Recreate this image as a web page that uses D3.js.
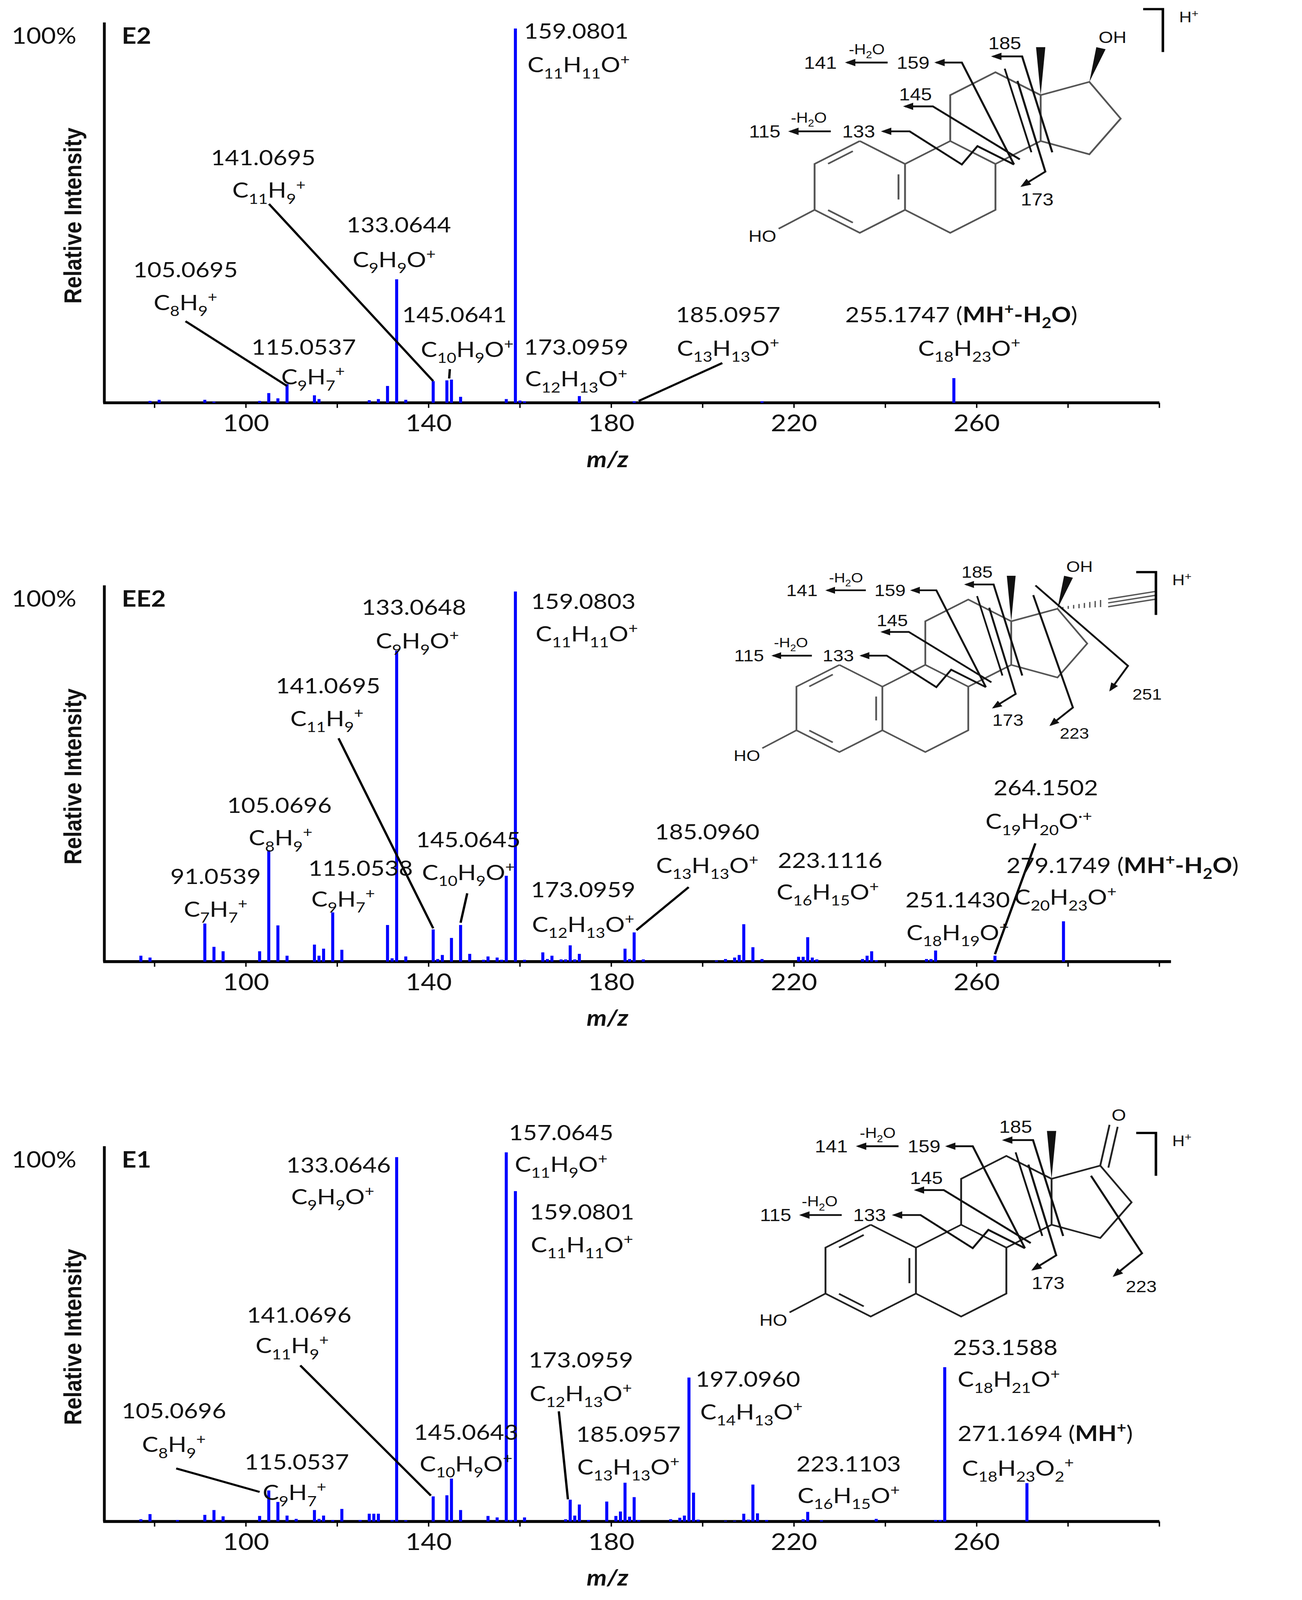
<!DOCTYPE html>
<html>
<head>
<meta charset="utf-8">
<script src="https://cdn.jsdelivr.net/npm/d3@7"></script>
<style>
  html, body { margin: 0; padding: 0; background: #fff; overflow: hidden; }
  svg { display: block; width: 100vw; height: 100vh; }
  text { font-family: Lato, "Open Sans", sans-serif; fill: #111; }
  .struct text { font-family: "Liberation Sans", Arial, sans-serif; }
</style>
</head>
<body>
<svg id="chart"></svg>
<script>
// ---- data (m/z, relative intensity %) ----
const E2_MZ  = [79, 81, 91, 93, 103, 105, 107, 109, 115, 116, 127, 129, 131, 133, 135, 141, 144, 145, 147, 157, 159, 160, 161, 173, 185, 213, 255];
const E2_INT = [0.5, 0.8, 0.8, 0.3, 0.5, 2.6, 1.2, 5, 2, 1, 0.7, 1, 4.5, 33, 0.8, 5.8, 6, 6.2, 1.6, 1, 100, 0.6, 0.4, 1.8, 0.4, 0.4, 6.6];

const EE2_MZ  = [77, 79, 91, 93, 95, 103, 105, 107, 109, 115, 116, 117, 119, 121, 131, 132, 133, 135, 141, 142, 143, 145, 147, 149,
                 152, 153, 155, 156, 157, 159, 161, 165, 166, 167, 169, 170, 171, 172, 173, 183, 184, 185, 187,
                 203, 205, 207, 208, 209, 211, 213, 221, 222, 223, 224, 225, 235, 236, 237, 238, 249, 250, 251, 264, 279];
const EE2_INT = [1.6, 1.1, 10.3, 4, 2.8, 2.8, 30.1, 9.8, 1.6, 4.6, 1.6, 3.5, 13.3, 3.2, 9.9, 0.9, 84, 1.4, 8.7, 0.7, 1.8, 6.4, 9.9, 2.1,
                 0.5, 1.4, 1.1, 0.5, 23.2, 100, 0.5, 2.5, 0.7, 1.6, 0.6, 0.6, 4.4, 0.6, 2.1, 3.5, 0.7, 7.9, 0.6,
                 0.3, 0.7, 1.1, 1.8, 10.1, 3.9, 0.7, 1.3, 1.3, 6.6, 1.1, 0.6, 0.7, 1.6, 2.8, 0.4, 0.7, 0.7, 3, 1.6, 10.9];

const E1_MZ  = [77, 79, 85, 91, 93, 95, 103, 105, 107, 109, 111, 115, 116, 117, 119, 121, 125, 127, 128, 129, 132, 133, 135,
                141, 144, 145, 147, 153, 155, 157, 158, 159, 161, 170, 171, 172, 173, 175, 179, 181, 182, 183, 184, 185, 186,
                193, 195, 196, 197, 198, 199, 205, 207, 209, 210, 211, 212, 214, 222, 223, 226, 238, 251, 252, 253, 271];
const E1_INT = [0.6, 2, 0.4, 1.8, 3.1, 1.4, 1.5, 8.4, 5.3, 1.6, 0.7, 3.1, 0.7, 1.6, 0.4, 3.4, 0.4, 2.1, 2.1, 2.1, 0.4, 98.7, 0.3,
                6.8, 7.1, 11.6, 3.1, 1.5, 1.1, 100, 0.4, 89.5, 1.1, 0.6, 5.9, 1.6, 4.6, 0.4, 5.4, 1.5, 2.7, 10.5, 1.3, 6.6, 0.4,
                0.6, 1, 1.6, 39, 7.8, 0.5, 0.2, 0.2, 2.1, 0.5, 10, 2.2, 0.4, 0.6, 2.6, 0.3, 0.7, 0.4, 0.4, 41.8, 10.4];

const MZ_DOMAIN = [69, 300];
const MZ_TICKS = [80, 100, 120, 140, 160, 180, 200, 220, 240, 260, 280, 300];
const MZ_TICK_LABELS = [100, 140, 180, 220, 260];

// annotation text lines: [x, y, anchor, segments]; segment [text, style] n=plain, f=formula, b=bold formula
const E2_LABELS = [
  [452, 38, "start", [["159.0801", "n"]]], [455, 71, "start", [["C11H11O+", "f"]]],
  [227, 162, "middle", [["141.0695", "n"]]], [232, 194, "middle", [["C11H9+", "f"]]],
  [344, 228, "middle", [["133.0644", "n"]]], [340, 262, "middle", [["C9H9O+", "f"]]],
  [160, 272, "middle", [["105.0695", "n"]]], [160, 304, "middle", [["C8H9+", "f"]]],
  [392, 316, "middle", [["145.0641", "n"]]], [403, 350, "middle", [["C10H9O+", "f"]]],
  [262, 348, "middle", [["115.0537", "n"]]], [270, 377, "middle", [["C9H7+", "f"]]],
  [497, 348, "middle", [["173.0959", "n"]]], [497, 379, "middle", [["C12H13O+", "f"]]],
  [628, 316, "middle", [["185.0957", "n"]]], [628, 349, "middle", [["C13H13O+", "f"]]],
  [729, 316, "start", [["255.1747 (", "n"], ["MH+-H2O", "b"], [")", "n"]]], [836, 349, "middle", [["C18H23O+", "f"]]]
];
const EE2_LABELS = [
  [357, 603, "middle", [["133.0648", "n"]]], [360, 636, "middle", [["C9H9O+", "f"]]],
  [458, 597, "start", [["159.0803", "n"]]], [462, 629, "start", [["C11H11O+", "f"]]],
  [283, 680, "middle", [["141.0695", "n"]]], [282, 712, "middle", [["C11H9+", "f"]]],
  [241, 797, "middle", [["105.0696", "n"]]], [242, 829, "middle", [["C8H9+", "f"]]],
  [186, 867, "middle", [["91.0539", "n"]]], [186, 899, "middle", [["C7H7+", "f"]]],
  [311, 859, "middle", [["115.0538", "n"]]], [296, 889, "middle", [["C9H7+", "f"]]],
  [404, 831, "middle", [["145.0645", "n"]]], [404, 863, "middle", [["C10H9O+", "f"]]],
  [503, 880, "middle", [["173.0959", "n"]]], [503, 914, "middle", [["C12H13O+", "f"]]],
  [610, 823, "middle", [["185.0960", "n"]]], [610, 856, "middle", [["C13H13O+", "f"]]],
  [716, 851, "middle", [["223.1116", "n"]]], [714, 882, "middle", [["C16H15O+", "f"]]],
  [826, 890, "middle", [["251.1430", "n"]]], [826, 922, "middle", [["C18H19O+", "f"]]],
  [902, 780, "middle", [["264.1502", "n"]]], [896, 813, "middle", [["C19H20O·+", "f"]]],
  [868, 856, "start", [["279.1749 (", "n"], ["MH+-H2O", "b"], [")", "n"]]], [919, 887, "middle", [["C20H23O+", "f"]]]
];
const E1_LABELS = [
  [292, 1150, "middle", [["133.0646", "n"]]], [287, 1181, "middle", [["C9H9O+", "f"]]],
  [484, 1118, "middle", [["157.0645", "n"]]], [484, 1149, "middle", [["C11H9O+", "f"]]],
  [502, 1196, "middle", [["159.0801", "n"]]], [502, 1228, "middle", [["C11H11O+", "f"]]],
  [258, 1297, "middle", [["141.0696", "n"]]], [252, 1327, "middle", [["C11H9+", "f"]]],
  [150, 1391, "middle", [["105.0696", "n"]]], [150, 1424, "middle", [["C8H9+", "f"]]],
  [256, 1441, "middle", [["115.0537", "n"]]], [254, 1471, "middle", [["C9H7+", "f"]]],
  [402, 1412, "middle", [["145.0643", "n"]]], [402, 1443, "middle", [["C10H9O+", "f"]]],
  [501, 1341, "middle", [["173.0959", "n"]]], [501, 1374, "middle", [["C12H13O+", "f"]]],
  [542, 1414, "middle", [["185.0957", "n"]]], [542, 1446, "middle", [["C13H13O+", "f"]]],
  [600, 1360, "start", [["197.0960", "n"]]], [604, 1392, "start", [["C14H13O+", "f"]]],
  [732, 1443, "middle", [["223.1103", "n"]]], [732, 1474, "middle", [["C16H15O+", "f"]]],
  [822, 1329, "start", [["253.1588", "n"]]], [826, 1360, "start", [["C18H21O+", "f"]]],
  [826, 1413, "start", [["271.1694 (", "n"], ["MH+", "b"], [")", "n"]]], [878, 1447, "middle", [["C18H23O2+", "f"]]]
];

// leader lines: [x, y of label end, m/z, intensity of peak end]
const E2_LEADERS  = [[232, 200, 141, 5.8], [160, 315, 109, 4.5], [388, 362, 144.5, 6.5], [623, 356, 186, 0.5]];
const EE2_LEADERS = [[292, 724, 141, 9], [403, 876, 147, 10.5], [594, 870, 185.5, 8.5], [893, 827, 264, 2]];
const E1_LEADERS  = [[259, 1339, 140.5, 7], [152, 1440, 103, 8], [482, 1384, 170.5, 6]];

const panels = [
  { name: "E2",  mz: E2_MZ,  inten: E2_INT,  labels: E2_LABELS,  leaders: E2_LEADERS,  top: 28,   base: 395,  axisEnd: 1000, struct: [741.6, 138.3, 1, "E2"] },
  { name: "EE2", mz: EE2_MZ, inten: EE2_INT, labels: EE2_LABELS, leaders: EE2_LEADERS, top: 580,  base: 943,  axisEnd: 1010, struct: [724, 652, 0.95, "EE2"] },
  { name: "E1",  mz: E1_MZ,  inten: E1_INT,  labels: E1_LABELS,  leaders: E1_LEADERS,  top: 1130, base: 1492, axisEnd: 1000, struct: [751, 1201, 1, "E1"] }
];

const W = 1123, H = 1569;
const svg = d3.select("#chart")
  .attr("viewBox", `0 0 ${W} ${H}`)
  .attr("preserveAspectRatio", "none");

svg.append("defs").append("marker")
  .attr("id", "arr").attr("viewBox", "0 0 10 10").attr("refX", 8).attr("refY", 5)
  .attr("markerWidth", 5).attr("markerHeight", 5).attr("orient", "auto-start-reverse")
  .append("path").attr("d", "M0,1 L10,5 L0,9 Z").attr("fill", "#111");

const x = d3.scaleLinear().domain(MZ_DOMAIN).range([90, 1000]);

// write text with sub/superscripts
function richText(sel, segs, size) {
  let off = 0;
  segs.forEach(([t, style]) => {
    if (style === "n") {
      sel.append("tspan").attr("dy", -off).text(t);
      off = 0;
      return;
    }
    for (let i = 0; i < t.length; i++) {
      const c = t[i];
      const prev = i > 0 ? t[i - 1] : "";
      let kind = 0, fs = size;
      if (/[0-9]/.test(c) && /[A-Za-z0-9]/.test(prev)) { kind = 1; fs = size * 0.68; }
      if (c === "+" || c === "·") { kind = -1; fs = size * 0.68; }
      const target = kind === 1 ? size * 0.28 : kind === -1 ? -size * 0.38 : 0;
      sel.append("tspan")
        .attr("dy", target - off)
        .attr("font-size", fs)
        .attr("font-weight", style === "b" ? "bold" : null)
        .text(c);
      off = target;
    }
  });
}

panels.forEach(p => {
  const g = svg.append("g");
  const y = d3.scaleLinear().domain([0, 100]).range([p.base, p.top]);

  // axes
  g.append("line").attr("x1", 90).attr("x2", 90).attr("y1", p.top - 6).attr("y2", p.base)
    .attr("stroke", "#000").attr("stroke-width", 2.4);
  g.append("line").attr("x1", 89).attr("x2", p.axisEnd).attr("y1", p.base).attr("y2", p.base)
    .attr("stroke", "#000").attr("stroke-width", 2.8);
  g.selectAll(".tk").data(MZ_TICKS).enter().append("line")
    .attr("x1", d => x(d)).attr("x2", d => x(d)).attr("y1", p.base).attr("y2", p.base + 5)
    .attr("stroke", "#000").attr("stroke-width", 1.2);
  g.selectAll(".tl").data(MZ_TICK_LABELS).enter().append("text")
    .attr("x", d => x(d)).attr("y", p.base + 28).attr("text-anchor", "middle")
    .attr("font-size", 23).text(d => d);
  g.append("text").attr("x", 524).attr("y", p.base + 63).attr("text-anchor", "middle")
    .attr("font-size", 22).attr("font-weight", "bold").attr("font-style", "italic").text("m/z");
  g.append("text").attr("x", 10).attr("y", p.top + 15).attr("font-size", 22).text("100%");
  g.append("text").attr("x", 105).attr("y", p.top + 15).attr("font-size", 22).attr("font-weight", "bold").text(p.name);
  g.append("text")
    .attr("transform", `translate(70,${(p.top + p.base) / 2}) rotate(-90)`)
    .attr("text-anchor", "middle").attr("font-size", 21).attr("font-weight", "bold")
    .style("font-family", "'Liberation Sans', Arial, sans-serif").text("Relative Intensity");

  // peaks
  const peaks = p.mz.map((m, i) => ({ m, v: p.inten[i] }));
  g.selectAll(".pk").data(peaks).enter().append("line")
    .attr("x1", d => x(d.m)).attr("x2", d => x(d.m))
    .attr("y1", p.base).attr("y2", d => y(d.v))
    .attr("stroke", "#0000ff").attr("stroke-width", 2.6);

  // leaders
  g.selectAll(".ld").data(p.leaders).enter().append("line")
    .attr("x1", d => d[0]).attr("y1", d => d[1])
    .attr("x2", d => x(d[2])).attr("y2", d => y(d[3]))
    .attr("stroke", "#000").attr("stroke-width", 2);

  // labels
  p.labels.forEach(([lx, ly, anchor, segs]) => {
    const t = g.append("text").attr("x", lx).attr("y", ly).attr("text-anchor", anchor).attr("font-size", 21);
    richText(t, segs, 21);
  });

  drawStructure(svg, ...p.struct);
  // H+ bracket
  const bx = p.name === "E2" ? 1003 : 997, by = p.top - 19;
  svg.append("path").attr("d", `M${bx - 17},${by} H${bx} V${by + 42}`)
    .attr("fill", "none").attr("stroke", "#000").attr("stroke-width", 2.2);
  const ht = svg.append("text").attr("x", bx + 14).attr("y", by + 13)
    .attr("font-size", 15).style("font-family", "'Liberation Sans', Arial, sans-serif");
  richText(ht, [["H+", "f"]], 15);
});

function drawStructure(root, ox, oy, s, kind) {
  const g = root.append("g").attr("class", "struct")
    .attr("transform", `translate(${ox},${oy}) scale(${s})`);
  const col = kind === "E1" ? "#222" : "#555";
  const bond = (pts, w, c) => g.append("path").attr("d", d3.line()(pts))
    .attr("fill", "none").attr("stroke", c || col).attr("stroke-width", w || 1.6);

  // rings
  const A = [[0, 0], [39, 22.5], [39, 67.5], [0, 90], [-39, 67.5], [-39, 22.5], [0, 0]];
  bond(A);
  bond([[39, 22.5], [78, 0], [117, 22.5], [117, 67.5], [78, 90], [39, 67.5]]);
  bond([[78, 0], [78, -45], [117, -67.5], [156, -45], [156, 0], [117, 22.5]]);
  bond([[156, -45], [198, -58], [225, -22], [198, 13], [156, 0]]);
  // aromatic inner bonds
  [[[-39, 22.5], [0, 0]], [[39, 22.5], [39, 67.5]], [[-39, 67.5], [0, 90]]].forEach(([a, b]) => {
    const cx = 0, cy = 45;
    const shrink = t => [a[0] + (b[0] - a[0]) * t, a[1] + (b[1] - a[1]) * t];
    const p1 = shrink(0.18), p2 = shrink(0.82);
    const mv = pt => { const dx = cx - pt[0], dy = cy - pt[1], l = Math.hypot(dx, dy); return [pt[0] + dx / l * 6, pt[1] + dy / l * 6]; };
    bond([mv(p1), mv(p2)]);
  });
  // HO
  bond([[-39, 67.5], [-70, 86]]);
  g.append("text").attr("x", -84).attr("y", 99).attr("text-anchor", "middle").attr("font-size", 16).text("HO");
  // methyl wedge
  g.append("path").attr("d", "M156,-45 L152,-92 L160,-92 Z").attr("fill", "#111");

  if (kind === "E2" || kind === "EE2") {
    g.append("path").attr("d", "M198,-58 L204,-92 L212,-90 Z").attr("fill", "#111");
    g.append("text").attr("x", 218).attr("y", -96).attr("text-anchor", "middle").attr("font-size", 16).text("OH");
  }
  if (kind === "EE2") {
    for (let i = 1; i <= 8; i++) {
      const t = i / 9, px = 198 + 44 * t, py = -58 - 6 * t, hw = 0.8 + 3.2 * t;
      bond([[px, py - hw], [px, py + hw]], 1.2);
    }
    [-4, 0, 4].forEach(dd => bond([[244, -64 + dd], [288, -72 + dd]], 1.4));
    bond([[178, -82], [262, 1], [246, 26]], 1.8, "#111").attr("marker-end", "url(#arr)");
    g.append("text").attr("x", 266).attr("y", 36).attr("font-size", 16).text("251");
    bond([[176, -72], [212, 44], [192, 62]], 1.8, "#111").attr("marker-end", "url(#arr)");
    g.append("text").attr("x", 200).attr("y", 76).attr("font-size", 16).text("223");
  }
  if (kind === "E1") {
    bond([[198, -58], [206, -98]]); bond([[205, -56], [213, -96]]);
    g.append("text").attr("x", 214).attr("y", -102).attr("text-anchor", "middle").attr("font-size", 16).text("O");
    bond([[190, -48], [234, 28], [210, 50]], 1.8, "#111").attr("marker-end", "url(#arr)");
    g.append("text").attr("x", 220).attr("y", 66).attr("font-size", 16).text("223");
  }

  // fragmentation arrows (shared)
  const arrows = [
    [[133, 23], [88, -77], [66, -77]],
    [[24, -77], [-11, -77]],
    [[166, 11], [140, -83], [115, -83]],
    [[136, -59], [160, 30], [140, 44]],
    [[138, 18], [63, -34], [39, -34]],
    [[133, 23], [101.5, 5], [88, 23], [43, -9.5], [20, -9.5]],
    [[-25, -9.5], [-60, -9.5]]
  ];
  arrows.forEach(a => bond(a, 1.8, "#111").attr("marker-end", "url(#arr)"));
  bond([[125, -71], [148, 11]], 1.6, "#111");
  const nums = [["159", 46, -77], ["141", -34, -77], ["185", 125, -96], ["173", 153, 57],
                ["145", 48, -46], ["133", -1, -9.5], ["115", -82, -9.5]];
  nums.forEach(([t, nx, ny]) => g.append("text").attr("x", nx).attr("y", ny + 6)
    .attr("text-anchor", "middle").attr("font-size", 17).text(t));
  [[6, -85], [-44, -18]].forEach(([hx, hy]) => {
    const t = g.append("text").attr("x", hx).attr("y", hy).attr("text-anchor", "middle").attr("font-size", 14);
    richText(t, [["-H2O", "f"]], 14);
  });
}
</script>
</body>
</html>
